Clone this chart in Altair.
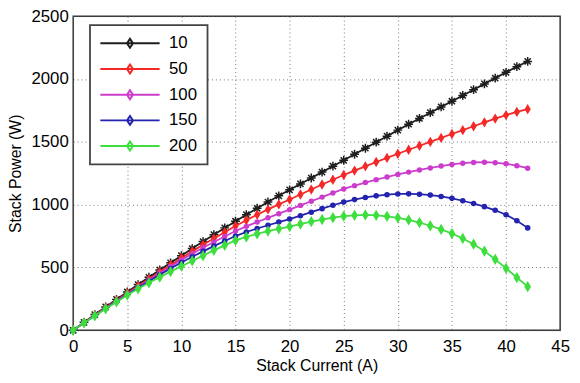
import altair as alt
import pandas as pd

# ---- data ----
current = list(range(43))  # Stack Current (A)
series_names = ["10", "50", "100", "150", "200"]

p10 = [0, 63, 125, 186, 246, 305, 364, 422, 480, 537, 594, 650, 706, 761, 815, 868,
       920, 971, 1021, 1070, 1118, 1165, 1212, 1259, 1306, 1353, 1401, 1449, 1497,
       1545, 1593, 1640, 1686, 1732, 1778, 1823, 1869, 1915, 1961, 2007, 2053, 2098, 2140]
p50 = [0, 61, 121, 180, 238, 295, 352, 408, 464, 520, 575, 628, 680, 731, 781, 830,
       876, 920, 962, 1002, 1041, 1081, 1120, 1160, 1198, 1236, 1271, 1305, 1339,
       1372, 1405, 1437, 1469, 1500, 1531, 1562, 1593, 1624, 1655, 1685, 1713, 1738, 1760]
p100 = [0, 60, 119, 177, 234, 290, 345, 400, 454, 507, 560, 609, 657, 703, 747, 790,
        827, 862, 895, 928, 960, 994, 1027, 1060, 1093, 1125, 1151, 1176, 1199, 1220,
        1240, 1259, 1276, 1292, 1307, 1320, 1330, 1336, 1338, 1334, 1325, 1310, 1290]
p150 = [0, 59, 117, 174, 230, 285, 338, 391, 442, 492, 540, 585, 628, 670, 711, 750,
        782, 810, 836, 861, 885, 912, 940, 968, 995, 1020, 1040, 1057, 1070, 1079,
        1085, 1086, 1083, 1076, 1065, 1050, 1031, 1009, 984, 955, 920, 872, 815]
p200 = [0, 58, 115, 171, 226, 280, 330, 378, 423, 467, 510, 552, 594, 636, 676, 715,
        743, 768, 790, 808, 825, 845, 864, 881, 896, 908, 915, 918, 915, 907, 895,
        878, 857, 832, 803, 770, 731, 685, 630, 565, 493, 420, 347]

x_ticks = list(range(0, 50, 5))
y_ticks = list(range(0, 3000, 500))

colors = ["#1e1e1e", "#f52828", "#cc3ccc", "#2323b0", "#3ede3e"]

all_series = [p10, p50, p100, p150, p200]
rows = []
for name, vals in zip(series_names, all_series):
    for i, v in zip(current, vals):
        rows.append({"I": i, "P": v, "s": name})
df = pd.DataFrame(rows)

FONT = "Liberation Sans"

star = "M-1,0L1,0M0,-1L0,1M-0.7,-0.7L0.7,0.7M-0.7,0.7L0.7,-0.7"
diamond = "M0,-1L0.6,0L0,1L-0.6,0Z"
marker_shapes = [star, diamond, "circle", "circle", diamond]
marker_sizes = [80, 110, 30, 32, 130]

xs = alt.Scale(domain=[0, 45], nice=False)
ys = alt.Scale(domain=[0, 2500], nice=False)
cs = alt.Scale(domain=series_names, range=colors)

x_axis = alt.Axis(values=x_ticks, format="d", grid=True, gridDash=[1, 3],
                  gridColor="#666", gridOpacity=0.9, ticks=False, domain=False,
                  labelFontSize=17, labelFont=FONT, labelColor="black",
                  labelPadding=8, labelFlush=False, labelOverlap=False,
                  title="Stack Current (A)", titleFont=FONT, titleFontSize=16,
                  titleFontWeight="normal", titleColor="black", titlePadding=4)
y_axis = alt.Axis(values=y_ticks, format="d", grid=True, gridDash=[1, 3],
                  gridColor="#666", gridOpacity=0.9, ticks=False, domain=False,
                  labelFontSize=17, labelFont=FONT, labelColor="black",
                  labelPadding=5, labelFlush=False, labelOverlap=False,
                  title="Stack Power (W)", titleFont=FONT, titleFontSize=16,
                  titleFontWeight="normal", titleColor="black", titlePadding=8)

legend = alt.Legend(orient="none", legendX=17, legendY=9, title=None,
                    symbolType="M-4,0L4,0M0,-0.6L0.4,0L0,0.6L-0.4,0Z",
                    symbolSize=225, symbolStrokeWidth=2, symbolOffset=22,
                    labelOffset=31, labelFontSize=17, labelFont=FONT,
                    labelColor="black", rowPadding=8, padding=10,
                    strokeColor="#444", fillColor="white")

layers = []
for k, name in enumerate(series_names):
    sub = df[df["s"] == name]
    enc = dict(x=alt.X("I:Q", scale=xs, axis=x_axis),
               y=alt.Y("P:Q", scale=ys, axis=y_axis))
    line = alt.Chart(sub).mark_line(strokeWidth=1.8).encode(
        color=alt.Color("s:N", scale=cs, legend=legend, sort=series_names), **enc)
    if k == 0:
        pts = alt.Chart(sub).mark_point(shape=marker_shapes[k], filled=False,
                                        size=marker_sizes[k], color=colors[k],
                                        strokeWidth=1.5, opacity=1).encode(**enc)
    else:
        pts = alt.Chart(sub).mark_point(shape=marker_shapes[k], filled=True,
                                        size=marker_sizes[k], color=colors[k],
                                        opacity=1).encode(**enc)
    layers += [line, pts]

chart = alt.layer(*layers).properties(
    width=493, height=318,
    autosize=alt.AutoSizeParams(type="none"),
    padding={"left": 66, "top": 6, "right": 12, "bottom": 43},
).configure_view(stroke="#333", strokeWidth=1.5).configure_legend(strokeWidth=1.8)

chart.save("out.html", embed_options={"renderer": "svg", "actions": False})
